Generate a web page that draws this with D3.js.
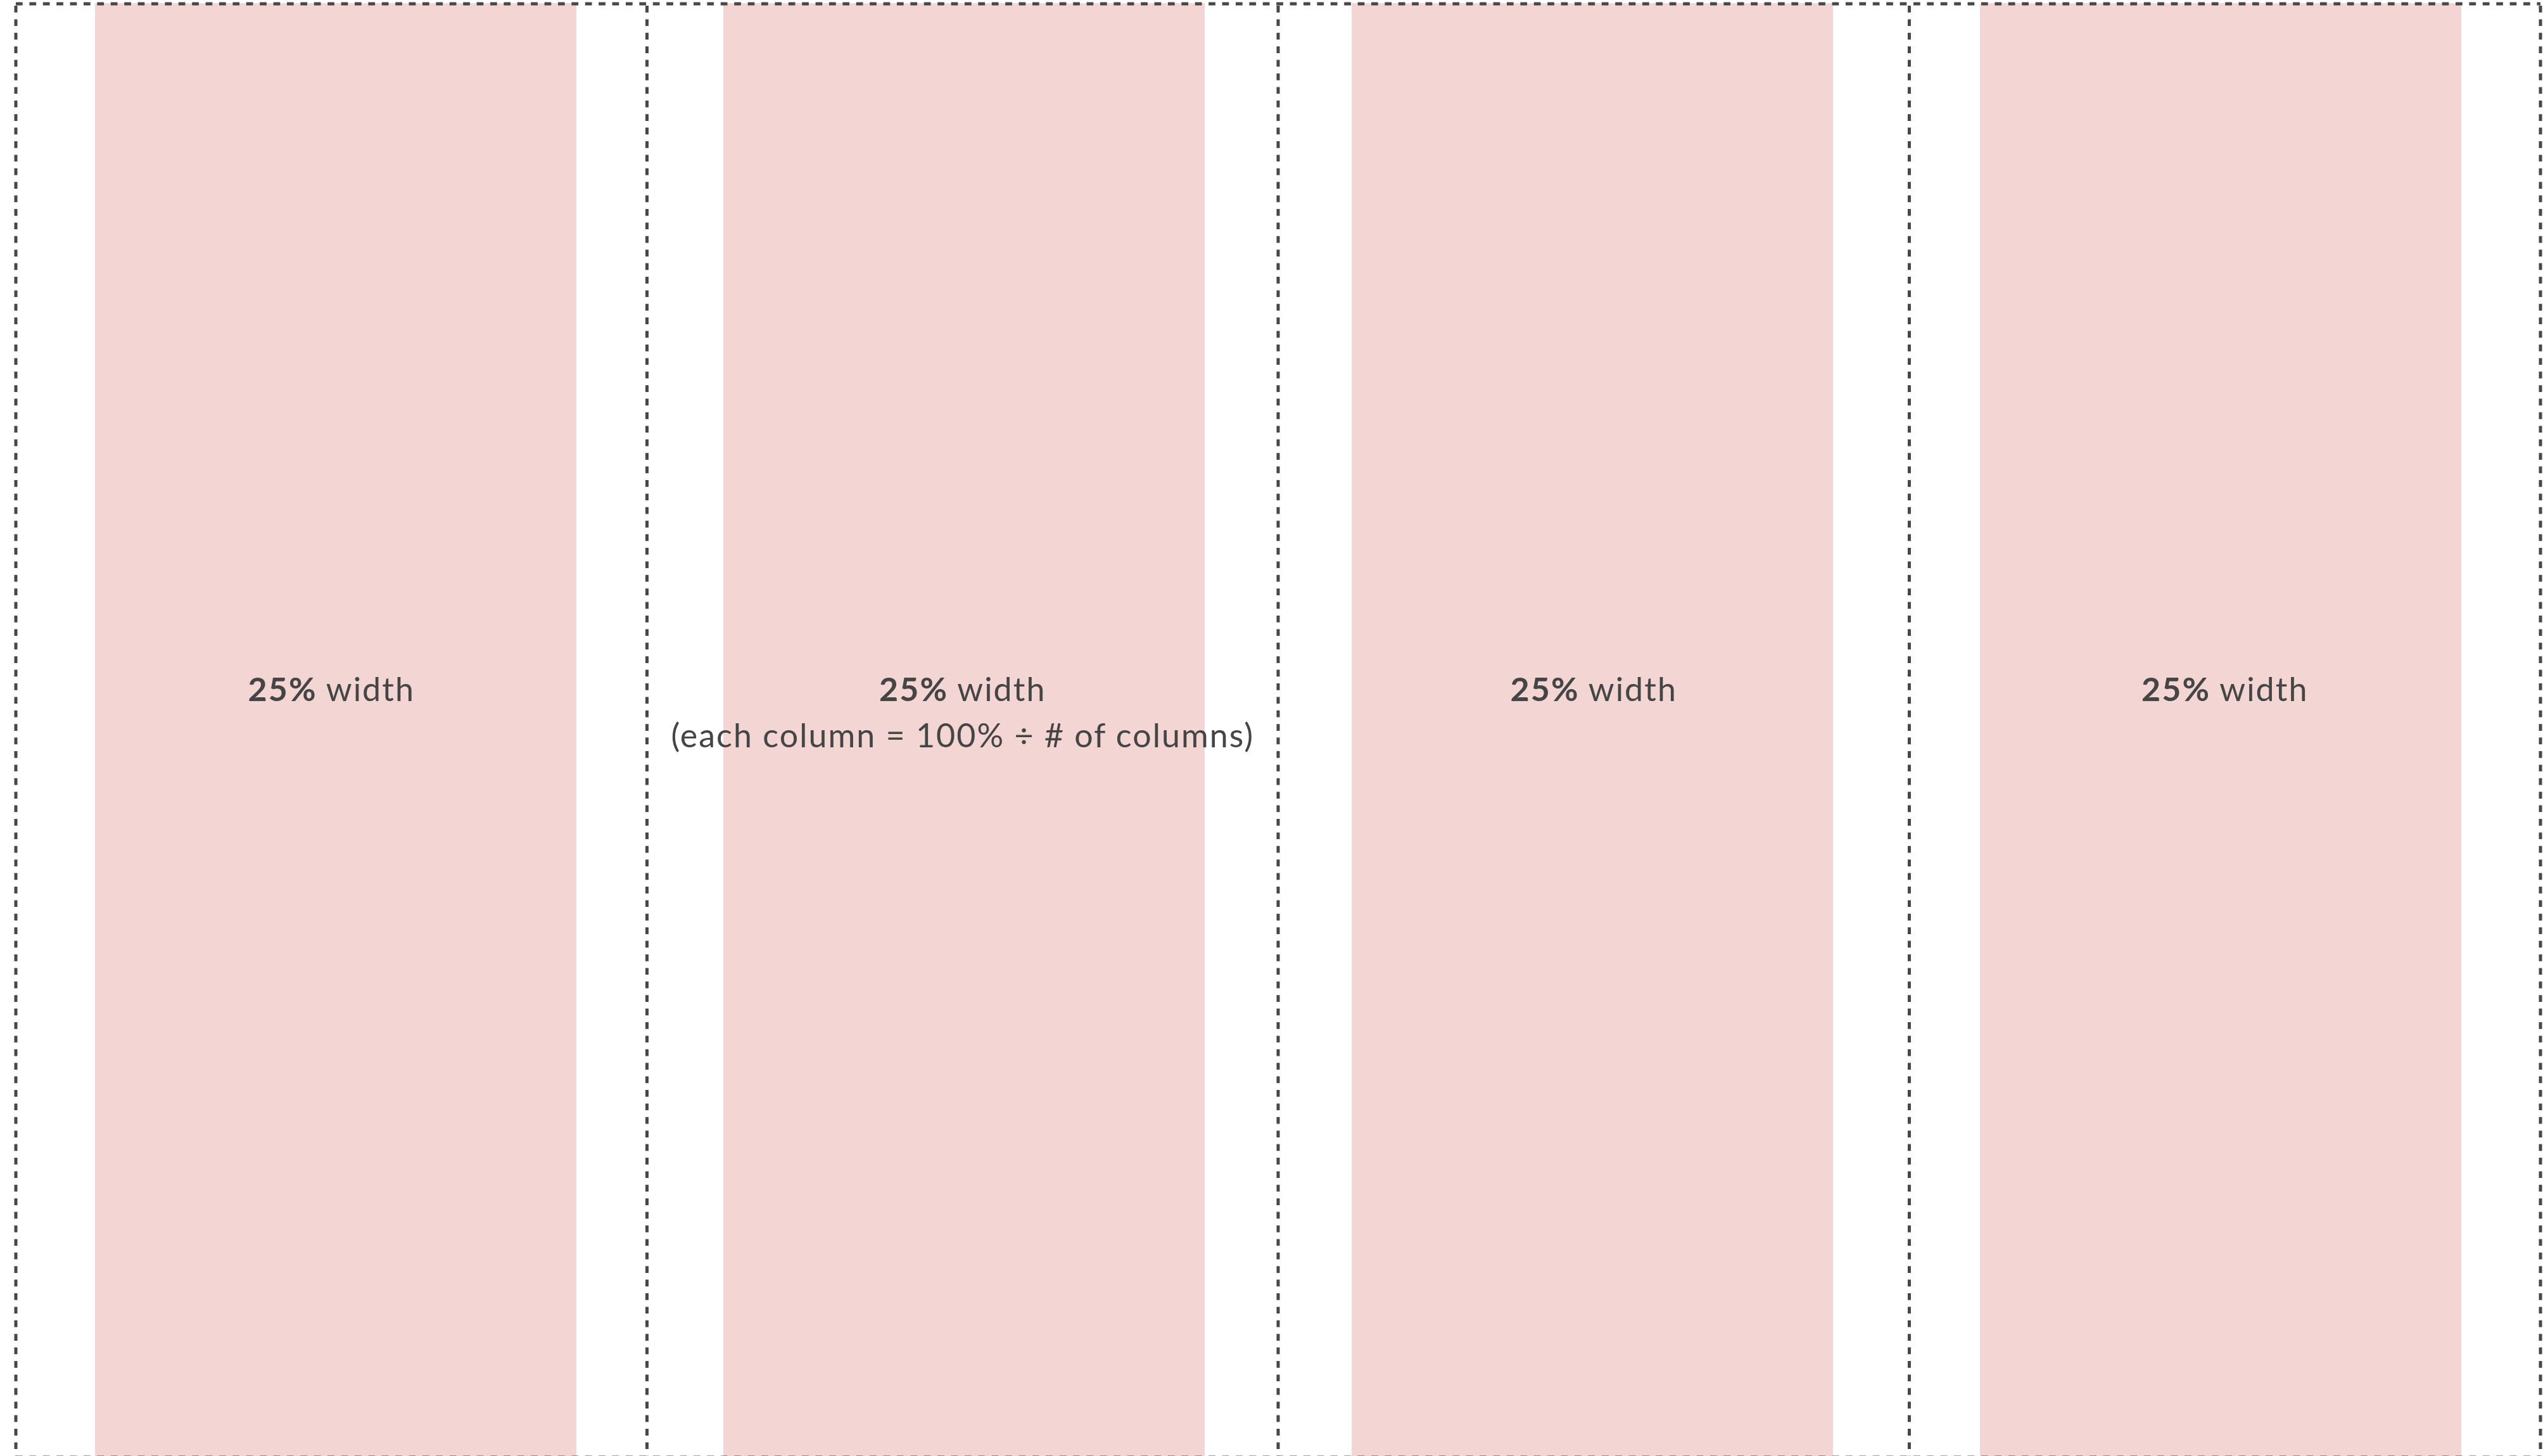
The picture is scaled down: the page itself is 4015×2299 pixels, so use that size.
<!DOCTYPE html>
<html>
<head>
<meta charset="utf-8">
<script src="https://cdn.jsdelivr.net/npm/d3@7"></script>
<style>
  body { margin: 0; background: #fff; overflow: hidden; }
  svg { display: block; }
</style>
</head>
<body>
<div id="grid-container"></div>
<script>
// column grid values
const columns = ["c1", "c2", "c3", "c4"];
const percentLabels = ["25%", "25%", "25%", "25%"];
const widthWords = ["width", "width", "width", "width"];
const noteLabels = ["", "(each column = 100% ÷ # of columns)", "", ""];

const svgWidth = 4015;
const svgHeight = 2299;
const margin = { top: 6, right: 4, bottom: -2, left: 25 };

const svg = d3.select("#grid-container")
    .append("svg")
    .attr("width", svgWidth)
    .attr("height", svgHeight);

// outer cells (dashed)
const cellX = d3.scaleBand()
    .domain(columns)
    .range([margin.left, svgWidth - margin.right])

// pink column bodies, gutter between
const colX = d3.scaleBand()
    .domain(columns)
    .range([34, 4002])
    .paddingInner(0.234)
    .paddingOuter(0.117)

svg.selectAll("rect.col")
    .data(columns)
    .join("rect")
    .attr("class", "col")
    .attr("x", d => colX(d))
    .attr("y", 5)
    .attr("width", colX.bandwidth())
    .attr("height", svgHeight)
    .attr("fill", "#f3d5d4")

const dash = "10.7 10.7"
const lineColor = "#474747"

// top and bottom borders
svg.selectAll("line.hborder")
    .data([margin.top, svgHeight - margin.bottom])
    .join("line")
    .attr("class", "hborder")
    .attr("x1", margin.left)
    .attr("x2", svgWidth - margin.right)
    .attr("y1", d => d)
    .attr("y2", d => d)
    .attr("stroke", lineColor)
    .attr("stroke-width", 5)
    .attr("stroke-dasharray", dash)

// vertical borders
const edges = columns.map(d => cellX(d)).concat([cellX.range()[1]])
svg.selectAll("line.vborder")
    .data(edges)
    .join("line")
    .attr("class", "vborder")
    .attr("x1", d => d)
    .attr("x2", d => d)
    .attr("y1", 9)
    .attr("y2", svgHeight)
    .attr("stroke", lineColor)
    .attr("stroke-width", 5)
    .attr("stroke-dasharray", dash)

// labels
const labels = svg.selectAll("g.label")
    .data(columns)
    .join("g")
    .attr("class", "label")
    .attr("transform", d => `translate(${cellX(d) + cellX.bandwidth() / 2},1107)`)
    .attr("font-family", "Lato, 'Noto Sans', sans-serif")
    .attr("font-size", 52)
    .attr("letter-spacing", 2)
    .attr("fill", "#454545")
    .attr("text-anchor", "middle")

const main = labels.append("text")
main.append("tspan")
    .attr("font-weight", "bold")
    .text((d, i) => percentLabels[i])
main.append("tspan")
    .attr("font-weight", "normal")
    .text((d, i) => " " + widthWords[i])

labels.filter((d, i) => noteLabels[i] != "")
    .append("text")
    .attr("y", 73)
    .text(d => noteLabels[columns.indexOf(d)])
</script>
</body>
</html>
